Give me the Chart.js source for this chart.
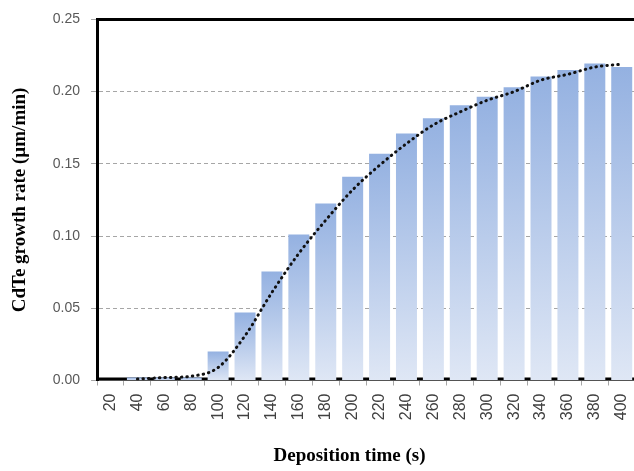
<!DOCTYPE html>
<html>
<head>
<meta charset="utf-8">
<script src="https://cdn.jsdelivr.net/npm/chart.js@4"></script>
<style>
  html, body { margin: 0; padding: 0; background: #fff; overflow: hidden; }
  #wrap { position: relative; width: 649px; height: 471px; }
</style>
</head>
<body>
<div id="wrap"><canvas id="chart"></canvas></div>
<script>
// deposition time categories (s)
const idoPontok = ["20", "40", "60", "80", "100", "120", "140", "160", "180", "200",
  "220", "240", "260", "280", "300", "320", "340", "360", "380", "400"];

// measured growth rate (µm/min)
const novekedes = [0, 0.002, 0.002, 0.002, 0.020, 0.047, 0.0755, 0.101, 0.1225, 0.141,
  0.157, 0.171, 0.1815, 0.1905, 0.1965, 0.203, 0.2105, 0.215, 0.2195, 0.217];

// dotted trend curve
const trend = [null, 0.001, 0.002, 0.003, 0.009, 0.031, 0.061, 0.088, 0.111, 0.132,
  0.149, 0.164, 0.177, 0.186, 0.194, 0.200, 0.208, 0.212, 0.217, 0.219];

const yTicks = [0, 0.05, 0.10, 0.15, 0.20, 0.25];

// each bar gets its own top-to-bottom gradient
function oszlopSzin(ctx) {
  const chart = ctx.chart;
  const y = chart.scales.y;
  if (!y || ctx.raw == null) return "#a9bfe6";
  const top = y.getPixelForValue(ctx.raw);
  const bottom = y.getPixelForValue(0);
  if (!isFinite(top) || bottom - top < 1) return "#a9bfe6";
  const g = chart.ctx.createLinearGradient(0, top, 0, bottom);
  g.addColorStop(0, "#94b1e1");
  g.addColorStop(1, "#dfe7f5");
  return g;
}

// black frame: top line and zero line (zero line sits under the bars)
const keretPlugin = {
  id: "keret",
  beforeDatasetsDraw(chart) {
    const { ctx, chartArea } = chart;
    const y0 = chart.scales.y.getPixelForValue(0);
    ctx.save();
    ctx.strokeStyle = "#000";
    ctx.lineWidth = 3;
    ctx.beginPath();
    ctx.moveTo(chartArea.left, chartArea.top);
    ctx.lineTo(chartArea.right + 15, chartArea.top);
    ctx.moveTo(chartArea.left, y0 - 1.5);
    ctx.lineTo(chartArea.right, y0 - 1.5);
    ctx.stroke();
    ctx.restore();
  },
};

new Chart(document.getElementById("chart"), {
  type: "bar",
  data: {
    labels: idoPontok,
    datasets: [
      {
        type: "line",
        label: "Trend",
        data: trend,
        borderColor: "#111",
        borderWidth: 3,
        borderDash: [0.5, 5],
        borderCapStyle: "round",
        pointRadius: 0,
        fill: false,
        cubicInterpolationMode: "monotone",
        spanGaps: true,
        order: 0,
      },
      {
        label: "Growth rate",
        data: novekedes,
        backgroundColor: oszlopSzin,
        borderWidth: 0,
        categoryPercentage: 1,
        barPercentage: 0.78,
        order: 1,
      },
    ],
  },
  options: {
    responsive: true,
    maintainAspectRatio: false,
    animation: false,
    layout: { padding: { top: 3, left: 9, right: 3, bottom: 4 } },
    scales: {
      x: {
        grid: {
          offset: true,
          drawOnChartArea: false,
          drawTicks: true,
          tickLength: 5,
          tickColor: "#a6a6a6",
        },
        border: { color: "#a6a6a6", width: 1 },
        ticks: {
          color: "#404040",
          font: { family: "Liberation Sans", size: 16 },
          minRotation: 90,
          maxRotation: 90,
          autoSkip: false,
          padding: 8,
        },
        title: {
          display: true,
          // trailing spaces keep the title a bit left of the axis centre, as in the original
          text: "Deposition time (s)\u00a0\u00a0\u00a0\u00a0\u00a0\u00a0\u00a0",
          color: "#000",
          font: { family: "Liberation Serif", size: 19, weight: "bold" },
          padding: { top: 16, bottom: 0 },
        },
      },
      y: {
        min: 0,
        max: 0.25,
        afterBuildTicks: (axis) => {
          axis.ticks = yTicks.map((v) => ({ value: v }));
        },
        grid: {
          color: "#a6a6a6",
          lineWidth: 1,
          tickLength: 6,
          tickColor: "#a6a6a6",
        },
        border: { color: "#000", width: 3, dash: [4, 3] },
        ticks: {
          color: "#595959",
          font: { family: "Liberation Sans", size: 14 },
          padding: 11,
          callback: (v) => Number(v).toFixed(2),
        },
        title: {
          display: true,
          text: "CdTe growth rate (µm/min)",
          color: "#000",
          font: { family: "Liberation Serif", size: 19, weight: "bold" },
          padding: { top: 0, bottom: 10 },
        },
      },
    },
    plugins: {
      legend: { display: false },
      tooltip: { enabled: false },
    },
  },
  plugins: [keretPlugin],
});
</script>
</body>
</html>
